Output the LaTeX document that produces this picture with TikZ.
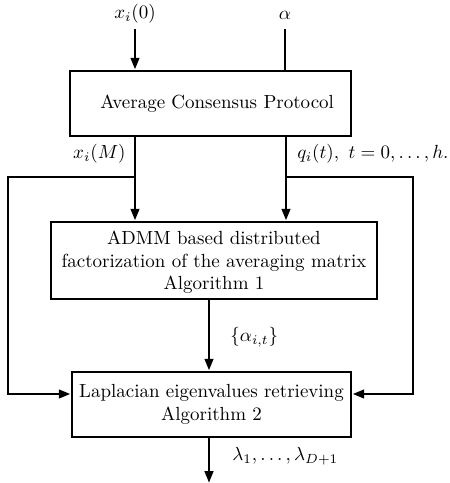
\documentclass[tikz,border=0pt]{standalone}
\usetikzlibrary{arrows.meta,calc}
\begin{document}
\begin{tikzpicture}[x=0.527pt,y=-0.527pt,
  box/.style={draw,line width=1.5pt,inner sep=0pt,align=center,font=\normalsize},
  wire/.style={line width=1.5pt},
  arr/.style={wire,-{Triangle[length=6.2pt,width=4.4pt]}},
  lbl/.style={inner sep=0pt}]
\useasboundingbox (0,0) rectangle (449,483);
\node[box,minimum width={281*0.527pt},minimum height={65*0.527pt}] (b1) at (210.5,103.5) {\hspace{7pt}Average Consensus Protocol};
\node[box,minimum width={326*0.527pt},minimum height={77*0.527pt},inner ysep=0pt] (b2) at (214,260.5) {\\[-3pt]ADMM based distributed\\factorization of the averaging matrix\\Algorithm 1};
\node[box,minimum width={279*0.527pt},minimum height={65*0.527pt}] (b3) at (211.5,404.5) {Laplacian eigenvalues retrieving\\Algorithm 2};
\node[lbl] (l0) at (135,14) {$x_i(0)$};
\node[lbl] (la) at (285,15) {$\alpha$};
\coordinate (i0) at (135,29);
\coordinate (ia) at (285,29);
\draw[arr] (i0) -- (i0 |- b1.north);
\draw[wire] (ia) -- (ia |- b1.north);
\coordinate (c1) at (135,177);
\coordinate (c2) at (286,177);
\coordinate (L) at (8,177);
\coordinate (R) at (413,177);
\coordinate (y3) at (0,394);
\draw[arr] (c1 |- b1.south) -- (c1 |- b2.north);
\draw[arr] (c2 |- b1.south) -- (c2 |- b2.north);
\draw[arr] (c1) -- (L) |- (b3.west |- y3);
\draw[arr] (c2) -- (R) |- (b3.east |- y3);
\node[lbl,anchor=east] (lxm) at (126,154) {$x_i(M)$};
\node[lbl,anchor=west] (lq) at (297,154) {$q_i(t),\ t=0,\ldots,h.$};
\coordinate (o1) at (209,0);
\draw[arr] (o1 |- b2.south) -- (o1 |- b3.north);
\node[lbl,anchor=west] (lal) at (230,337) {$\{\alpha_{i,t}\}$};
\coordinate (out) at (209,483);
\draw[arr] (out |- b3.south) -- (out);
\node[lbl,anchor=west] (llam) at (232,456) {$\lambda_1,\ldots,\lambda_{D+1}$};
\end{tikzpicture}
\end{document}
